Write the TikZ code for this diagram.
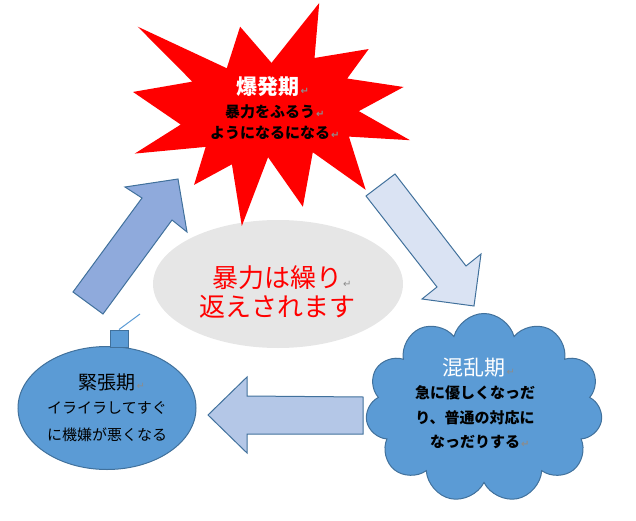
\documentclass[tikz,border=0pt]{standalone}
\usepackage{fontspec}
\newfontfamily\jp{Noto Sans CJK JP}
\newfontfamily\markfont{DejaVu Sans}
\usetikzlibrary{positioning, shapes.geometric, shapes.symbols}

\definecolor{burstred}{HTML}{FF0000}
\definecolor{calmgray}{HTML}{E6E6E6}
\definecolor{phaseblue}{HTML}{5B9BD5}
\definecolor{edgeblue}{HTML}{41719C}
\definecolor{uparrow}{HTML}{8FAADC}
\definecolor{downarrow}{HTML}{DAE3F3}
\definecolor{backarrow}{HTML}{B4C7E7}
\definecolor{markgray}{HTML}{8C8C8C}

% paragraph mark, no width
\newcommand{\pmark}{\rlap{\hspace{1pt}\markfont\fontsize{10}{10}\selectfont\color{markgray}↵}}

\tikzset{
  phase/.style={fill=phaseblue, draw=edgeblue, line width=1pt},
  turn/.style={draw=edgeblue, line width=1pt},
  title/.style={font=\jp\fontsize{21}{24}\selectfont, inner sep=0pt},
  body/.style={align=center, inner sep=0pt}
}

\begin{document}
\begin{tikzpicture}[x=1pt, y=-1pt]
\useasboundingbox (0,0) rectangle (636,521);

% Calm centre
\node[ellipse, fill=calmgray, minimum width=250, minimum height=128] (calm) at (278,284) {};
\node[body, text=burstred, font=\jp\fontsize{26}{29}\selectfont] (calmtext) at (277,292)
  {暴力は繰り\pmark\\返えされます};

% Explosion (top)
\begin{scope}[shift={(133,3)}, xscale=1.2824, yscale=1.0324]
\fill[burstred] (108,58) -- (145.22,0) -- (141.55,53.25) -- (183.80,44.57)
  -- (167.02,73.15) -- (210.97,81.37) -- (176.07,104.75) -- (216,132.90)
  -- (168.37,129.42) -- (181.45,180.95) -- (140.20,144.57) -- (132.47,197.37)
  -- (105.32,149.35) -- (84.85,216) -- (77.15,156.27) -- (47.62,176.17)
  -- (56.67,139.37) -- (1.35,145.87) -- (37.22,117.75) -- (0,86.15)
  -- (46.27,76.17) -- (3.70,22.95) -- (73.12,63.20) -- (83.52,22.95) -- cycle;
\end{scope}
\node[title, text=white, font=\jp\bfseries\fontsize{21}{24}\selectfont] (burst) at (268,87) {爆発期\pmark};
\node[body, font=\jp\bfseries\fontsize{15}{21}\selectfont] (bursttext) at (270,122.5)
  {暴力をふるう\pmark\\ようになるになる\pmark};

% Confusion (cloud, right)
\node[phase, cloud, cloud puffs=11, cloud ignores aspect,
      minimum width=237, minimum height=189] (chaos) at (484,408) {};
\node[title, text=white] (chaostitle) at (474,368) {混乱期\pmark};
\node[body, font=\jp\bfseries\fontsize{15}{24.5}\selectfont] (chaostext) at (475,417.5)
  {急に優しくなっだ\\り、普通の対応に\\なっだりする\pmark};

% Tension (bomb, left)
\node[phase, ellipse, minimum width=178, minimum height=123] (tension) at (107,408) {};
\node[phase, rectangle, minimum width=18, minimum height=17, inner sep=0pt] (cap) at (119,338.5) {};
\coordinate (fuse) at (140,314);
\draw[phaseblue, line width=1pt] (cap.north) -- (fuse);
\node[title, font=\jp\fontsize{19}{22}\selectfont] (tensiontitle) at (107,382) {緊張期\pmark};
\node[body, font=\jp\fontsize{15}{27}\selectfont] (tensiontext) at (107,421.5)
  {イライラしてすぐ\\に機嫌が悪くなる};

% Arrows of the cycle
\draw[turn, fill=uparrow] (73,292) -- (142,198) -- (125,187) -- (178,179)
  -- (187,232) -- (172,220) -- (103,314) -- cycle;
\draw[turn, fill=downarrow] (366,196) -- (395,174) -- (466,266) -- (481,254)
  -- (474,306) -- (422,299) -- (437,287) -- cycle;
\draw[turn, fill=backarrow] (208,415) -- (247,377) -- (247,396) -- (363,397)
  -- (363,434) -- (247,434) -- (247,453) -- cycle;
\end{tikzpicture}
\end{document}
